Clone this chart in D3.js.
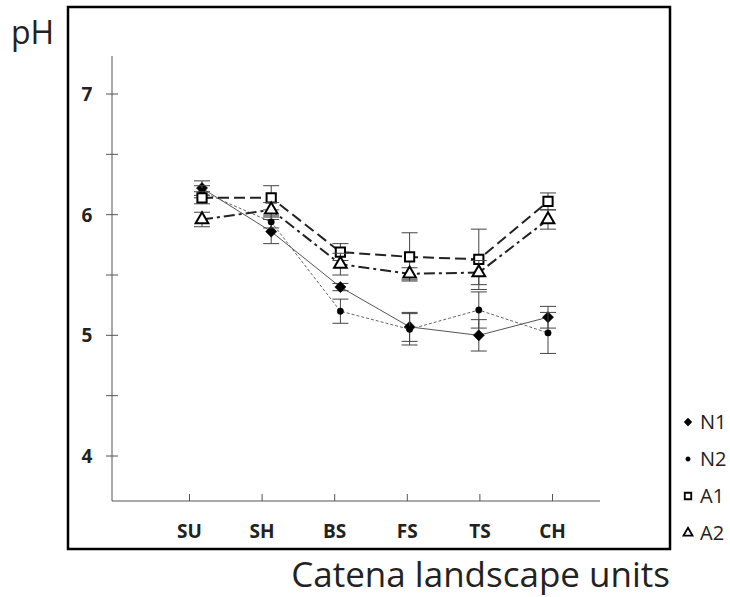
<!DOCTYPE html>
<html>
<head>
<meta charset="utf-8">
<script src="https://cdn.jsdelivr.net/npm/d3@7/dist/d3.min.js"></script>
<style>
  body { margin: 0; background: #fff; }
  text { font-family: "Open Sans", "Noto Sans", sans-serif; }
</style>
</head>
<body>
<svg id="chart" width="730" height="597"></svg>
<script>
// landscape units along the catena
var units = ["SU", "SH", "BS", "FS", "TS", "CH"]
var yTicks = [4, 5, 6, 7]

// mean pH and error per series
var n1 = [6.22, 5.86, 5.40, 5.07, 5.00, 5.15]
var n1Err = [0.06, 0.10, 0.03, 0.12, 0.13, 0.09]
var n2 = [6.19, 5.94, 5.20, 5.05, 5.21, 5.02]
var n2Err = [0.05, 0.05, 0.10, 0.13, 0.15, 0.17]
var a1 = [6.14, 6.14, 5.69, 5.65, 5.63, 6.11]
var a1Err = [0.05, 0.10, 0.07, 0.20, 0.25, 0.07]
var a2 = [5.96, 6.04, 5.59, 5.51, 5.52, 5.96]
var a2Err = [0.06, 0.06, 0.09, 0.05, 0.10, 0.08]

var seriesNames = ["N1", "N2", "A1", "A2"]

var series = [
    {name: "N1", vals: n1, err: n1Err, sym: d3.symbolDiamond2, size: 80, fill: "#000", dash: null, width: 1, color: "#555"},
    {name: "N2", vals: n2, err: n2Err, sym: d3.symbolCircle, size: 32, fill: "#000", dash: "3,2", width: 1, color: "#666"},
    {name: "A1", vals: a1, err: a1Err, sym: d3.symbolSquare, size: 85, fill: "#fff", dash: "11,5", width: 2, color: "#222"},
    {name: "A2", vals: a2, err: a2Err, sym: d3.symbolTriangle, size: 70, fill: "#fff", dash: "11,4,3,4", width: 2, color: "#222"}
]

var svg = d3.select("#chart")

// outer frame
svg.append("rect")
    .attr("x", 68).attr("y", 7)
    .attr("width", 602).attr("height", 542)
    .attr("fill", "none")
    .attr("stroke", "#000")
    .attr("stroke-width", 2.5)

var yScale = d3.scaleLinear()
    .domain([4, 7])
    .range([456, 94])

var xScale = d3.scalePoint()
    .domain(units)
    .range([202, 548])

var xTickScale = d3.scalePoint()
    .domain(units)
    .range([189, 552])

var axisX = 112, axisY = 501

// y axis
svg.append("line")
    .attr("x1", axisX).attr("x2", axisX)
    .attr("y1", 56).attr("y2", axisY)
    .attr("stroke", "#555")

svg.append("g")
    .selectAll("line")
    .data(d3.range(4, 7.01, 0.5))
    .enter()
    .append("line")
    .attr("x1", axisX - 6).attr("x2", axisX + 6)
    .attr("y1", function(d){return yScale(d)})
    .attr("y2", function(d){return yScale(d)})
    .attr("stroke", "#555")

svg.append("g")
    .selectAll("text")
    .data(yTicks)
    .enter()
    .append("text")
    .attr("x", 87)
    .attr("y", function(d){return yScale(d) + 7})
    .attr("text-anchor", "middle")
    .attr("font-size", 19)
    .attr("font-weight", "bold")
    .attr("fill", "#222")
    .text(function(d){return d})

// x axis
var xAxis = d3.axisBottom(xTickScale)
    .tickSize(0)
    .tickPadding(24)

var gx = svg.append("g")
    .attr("transform", "translate(0," + axisY + ")")
    .call(xAxis)

gx.select(".domain").remove()
gx.selectAll("text")
    .attr("font-size", 19)
    .attr("font-weight", "bold")
    .attr("fill", "#222")
    .attr("font-family", "'Open Sans', sans-serif")

svg.append("line")
    .attr("x1", axisX).attr("x2", 600)
    .attr("y1", axisY).attr("y2", axisY)
    .attr("stroke", "#555")

gx.selectAll(".tick")
    .append("line")
    .attr("y1", -7).attr("y2", 0)
    .attr("stroke", "#555")

// lines
var line = d3.line()
    .x(function(d, i){return xScale(units[i])})
    .y(function(d){return yScale(d)})

var groups = svg.append("g")
    .selectAll("g")
    .data(series)
    .enter()
    .append("g")

groups.append("path")
    .attr("d", function(s){return line(s.vals)})
    .attr("fill", "none")
    .attr("stroke", function(s){return s.color})
    .attr("stroke-width", function(s){return s.width})
    .attr("stroke-dasharray", function(s){return s.dash})

// error bars
groups.each(function(s)
{
    var g = d3.select(this)
    var cap = 8
    s.vals.forEach(function(v, i)
    {
        var x = xScale(units[i])
        var top = yScale(v + s.err[i]), bot = yScale(v - s.err[i])
        g.append("line").attr("x1", x).attr("x2", x).attr("y1", top).attr("y2", bot)
            .attr("stroke", "#444").attr("stroke-width", 1)
        g.append("line").attr("x1", x - cap).attr("x2", x + cap).attr("y1", top).attr("y2", top)
            .attr("stroke", "#444").attr("stroke-width", 1)
        g.append("line").attr("x1", x - cap).attr("x2", x + cap).attr("y1", bot).attr("y2", bot)
            .attr("stroke", "#444").attr("stroke-width", 1)
    })
})

// markers
groups.each(function(s)
{
    d3.select(this)
        .selectAll("path.mark")
        .data(s.vals)
        .enter()
        .append("path")
        .attr("class", "mark")
        .attr("d", d3.symbol().type(s.sym).size(s.size))
        .attr("transform", function(d, i){
            return "translate(" + xScale(units[i]) + "," + yScale(d) + ")"})
        .attr("fill", s.fill)
        .attr("stroke", "#000")
        .attr("stroke-width", s.fill == "#fff" ? 2 : 0.5)
})

// legend
var legend = svg.append("g")
    .selectAll("g")
    .data(series)
    .enter()
    .append("g")
    .attr("transform", function(s, i){return "translate(688," + (422 + i * 37) + ")"})

legend.append("path")
    .attr("d", function(s){return d3.symbol().type(s.sym).size(s.size * 0.5)()})
    .attr("fill", function(s){return s.fill})
    .attr("stroke", "#000")
    .attr("stroke-width", function(s){return s.fill == "#fff" ? 1.8 : 0.5})

legend.append("text")
    .attr("x", 12)
    .attr("y", 7)
    .attr("font-size", 20)
    .attr("fill", "#222")
    .text(function(s){return s.name})

// titles
svg.append("text")
    .attr("x", 11).attr("y", 44)
    .attr("font-size", 32)
    .attr("fill", "#222")
    .text("pH")

svg.append("text")
    .attr("x", 670).attr("y", 587)
    .attr("text-anchor", "end")
    .attr("font-size", 35)
    .attr("fill", "#222")
    .text("Catena landscape units")
</script>
</body>
</html>
